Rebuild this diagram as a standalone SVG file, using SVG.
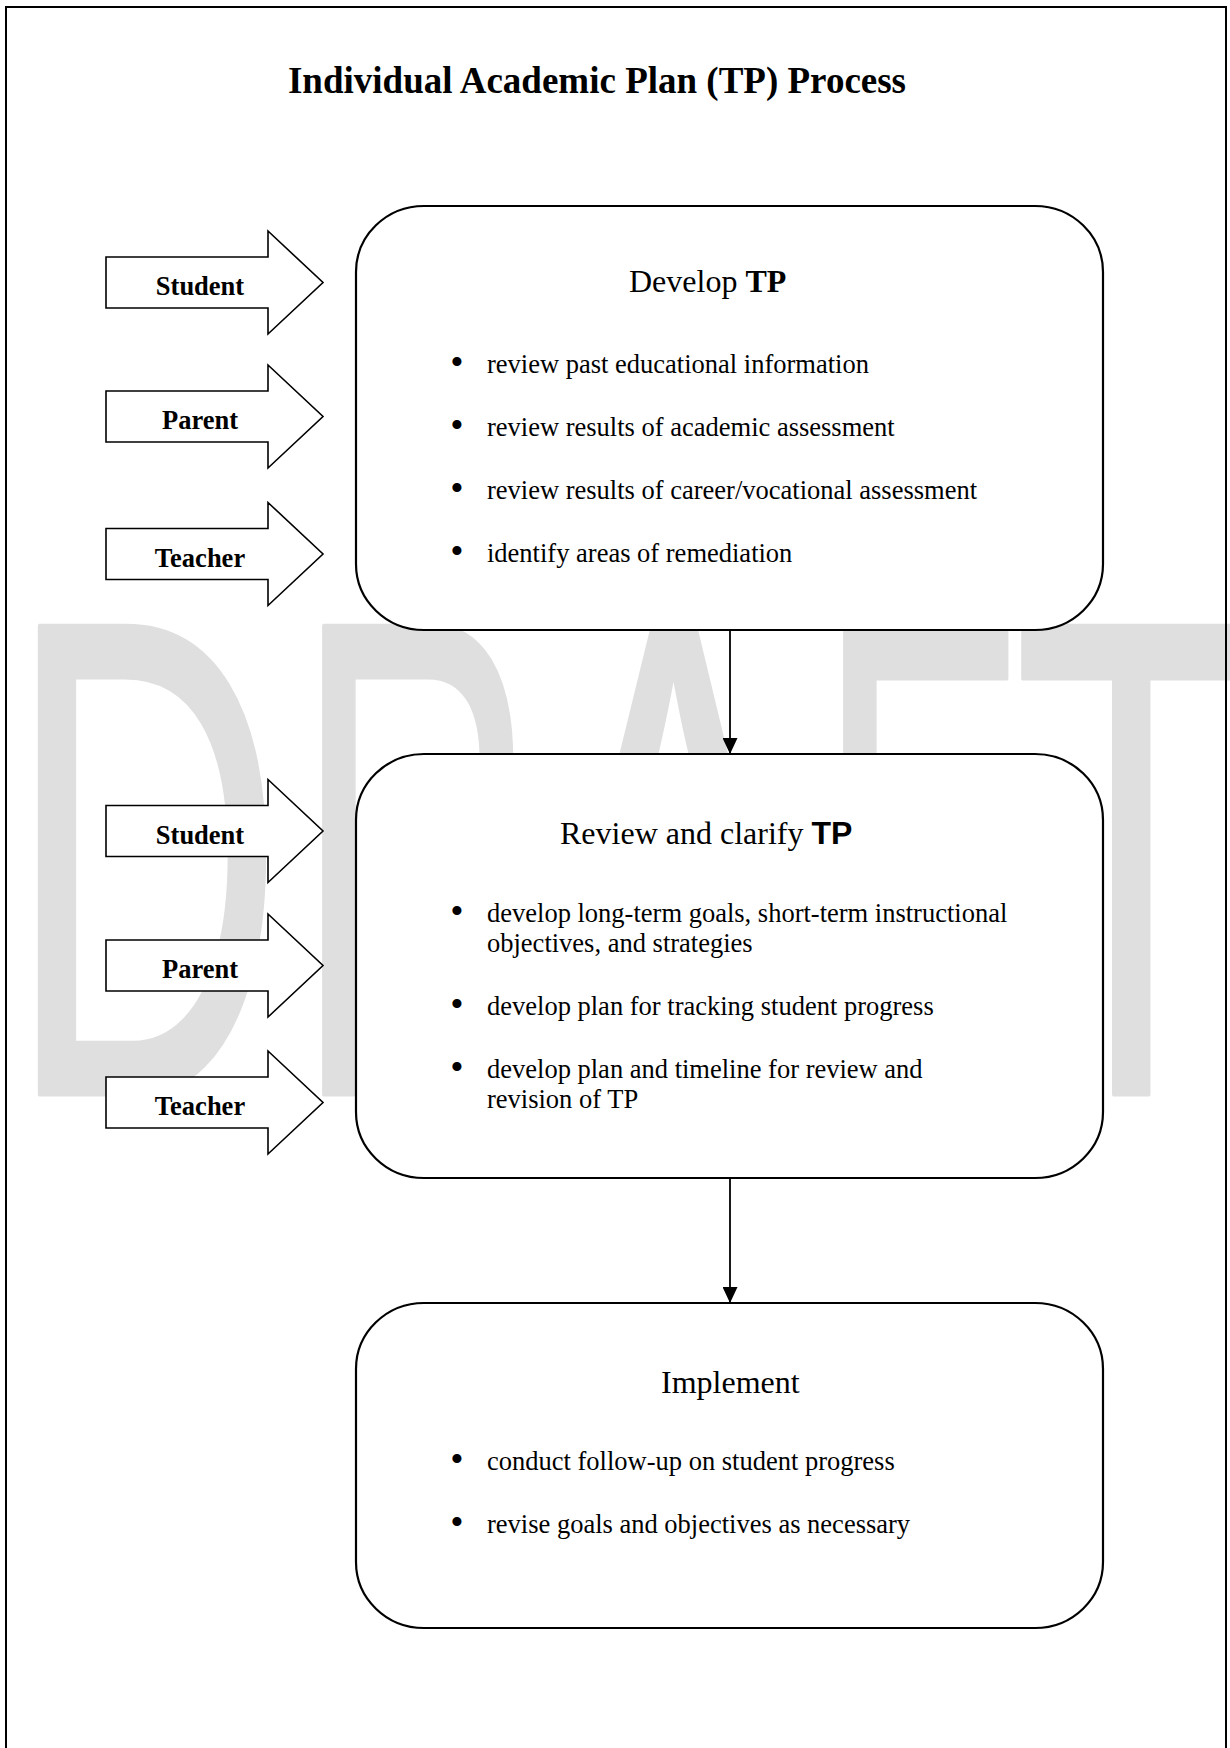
<svg xmlns="http://www.w3.org/2000/svg" width="1230" height="1748" viewBox="0 0 1230 1748">
<style>
.t{font-family:"Liberation Serif","Times New Roman",serif;fill:#000}
.title{font-size:37px;font-weight:bold;text-anchor:middle}
.head{font-size:32px}
.body{font-size:26.5px}
.dot{font-size:38px;text-anchor:middle}
.lbl{font-size:26.5px;font-weight:bold;text-anchor:middle}
.sans{font-family:"Liberation Sans",Arial,sans-serif;font-weight:bold}
.box{fill:#fff;stroke:#000;stroke-width:2.2}
.arr{fill:#fff;stroke:#000;stroke-width:1.6}
.wm{font-family:"Liberation Sans",Arial,sans-serif;font-size:680px;fill:#dfdfdf;stroke:#dfdfdf;stroke-width:5;stroke-linejoin:round}
.conn{stroke:#000;stroke-width:1.8;fill:none}
</style>
<defs>
<polygon id="blk" points="106,-25.5 268,-25.5 268,-51.5 323,0 268,51.5 268,25.5 106,25.5"/>
<marker id="ah" viewBox="0 0 16 15" refX="16" refY="7.5" markerWidth="16" markerHeight="15" orient="auto" markerUnits="userSpaceOnUse">
<path d="M0,0 L16,7.5 L0,15 z" fill="#000"/>
</marker>
</defs>
<rect x="0" y="0" width="1230" height="1748" fill="#fff"/>
<g id="watermark">
<text class="wm" transform="translate(8,1094) scale(0.56,1)">D</text>
<text class="wm" transform="translate(296,1094) scale(0.49,1)">R</text>
<text class="wm" transform="translate(537,1094) scale(0.6,1)">A</text>
<text class="wm" transform="translate(817,1094) scale(0.49,1)">F</text>
<text class="wm" transform="translate(1014,1094) scale(0.565,1)">T</text>
</g>
<rect id="page-border" x="6" y="7" width="1220" height="1800" fill="none" stroke="#000" stroke-width="2"/>
<text id="title" class="t title" x="597" y="93">Individual Academic Plan (TP) Process</text>
<g id="connectors">
<line class="conn" x1="730" y1="631" x2="730" y2="754" marker-end="url(#ah)"/>
<line class="conn" x1="730" y1="1179" x2="730" y2="1303" marker-end="url(#ah)"/>
</g>
<g id="in-student-1"><use href="#blk" class="arr" transform="translate(0,282.5)"/><text class="t lbl" x="200" y="295">Student</text></g>
<g id="in-parent-1"><use href="#blk" class="arr" transform="translate(0,416.5)"/><text class="t lbl" x="200" y="429">Parent</text></g>
<g id="in-teacher-1"><use href="#blk" class="arr" transform="translate(0,554)"/><text class="t lbl" x="200" y="567">Teacher</text></g>
<g id="in-student-2"><use href="#blk" class="arr" transform="translate(0,831)"/><text class="t lbl" x="200" y="844">Student</text></g>
<g id="in-parent-2"><use href="#blk" class="arr" transform="translate(0,965.5)"/><text class="t lbl" x="200" y="978">Parent</text></g>
<g id="in-teacher-2"><use href="#blk" class="arr" transform="translate(0,1102.5)"/><text class="t lbl" x="200" y="1115">Teacher</text></g>
<g id="develop">
<rect class="box" x="356" y="206" width="747" height="424" rx="68" ry="66"/>
<text class="t head" x="629" y="292">Develop <tspan font-weight="bold">TP</tspan></text>
<text class="t dot" x="457" y="375">•</text><text class="t body" x="487" y="373">review past educational information</text>
<text class="t dot" x="457" y="438">•</text><text class="t body" x="487" y="436">review results of academic assessment</text>
<text class="t dot" x="457" y="501">•</text><text class="t body" x="487" y="499">review results of career/vocational assessment</text>
<text class="t dot" x="457" y="564">•</text><text class="t body" x="487" y="562">identify areas of remediation</text>
</g>
<g id="review">
<rect class="box" x="356" y="754" width="747" height="424" rx="68" ry="66"/>
<text class="t head" x="560" y="844">Review and clarify <tspan class="sans">TP</tspan></text>
<text class="t dot" x="457" y="924">•</text><text class="t body" x="487" y="922">develop long-term goals, short-term instructional</text>
<text class="t body" x="487" y="952">objectives, and strategies</text>
<text class="t dot" x="457" y="1017">•</text><text class="t body" x="487" y="1015">develop plan for tracking student progress</text>
<text class="t dot" x="457" y="1080">•</text><text class="t body" x="487" y="1078">develop plan and timeline for review and</text>
<text class="t body" x="487" y="1108">revision of TP</text>
</g>
<g id="implement">
<rect class="box" x="356" y="1303" width="747" height="325" rx="68" ry="66"/>
<text class="t head" x="661" y="1393">Implement</text>
<text class="t dot" x="457" y="1472">•</text><text class="t body" x="487" y="1470">conduct follow-up on student progress</text>
<text class="t dot" x="457" y="1535">•</text><text class="t body" x="487" y="1533">revise goals and objectives as necessary</text>
</g>
</svg>
